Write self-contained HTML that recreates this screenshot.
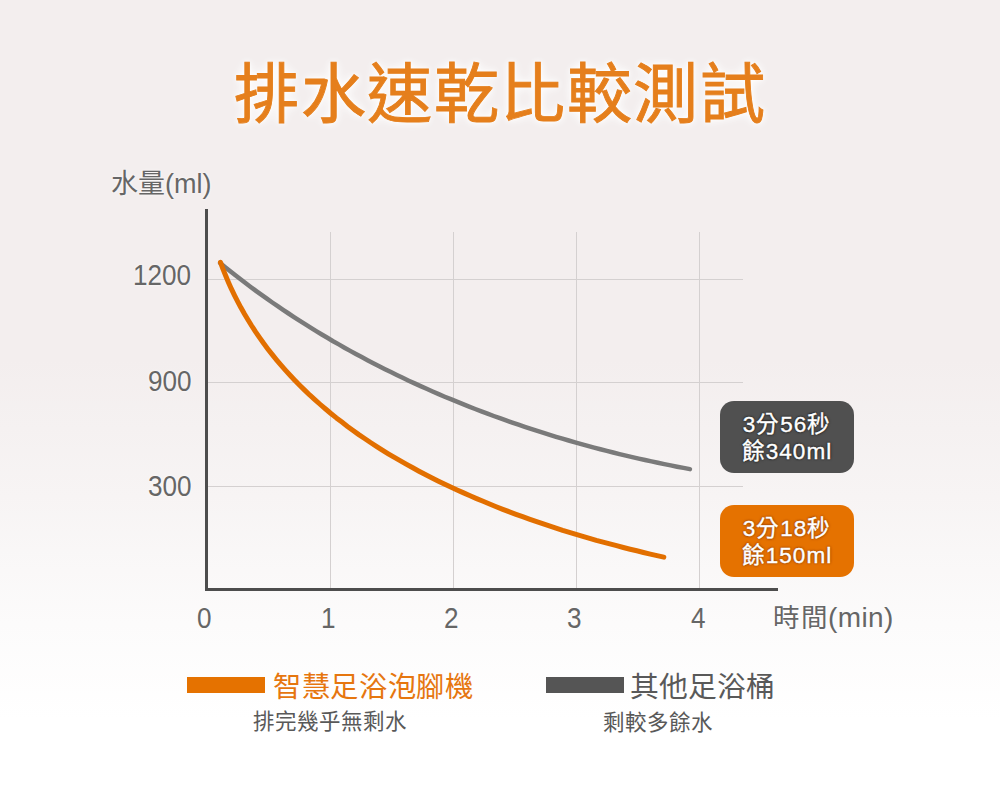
<!DOCTYPE html>
<html lang="zh-TW"><head><meta charset="utf-8">
<style>
html,body{margin:0;padding:0;}
body{width:1000px;height:800px;position:relative;overflow:hidden;
font-family:"Liberation Sans",sans-serif;
background:linear-gradient(to bottom,#f3eeee 0%,#f3eeee 45%,#f7f4f4 62%,#fcfbfb 78%,#ffffff 90%,#ffffff 100%);}
.t{position:absolute;white-space:nowrap;line-height:1;}
#title{color:#e57f1c;font-weight:500;text-shadow:0 0 4px #fff,0 0 8px #fff,0 0 12px #fff;}
.lab{color:#595959;text-shadow:0 0 3px #fff;}
#leg1{color:#e6760f;}
.box{position:absolute;left:720px;width:134px;height:72px;border-radius:14px;color:#fff;
font-size:22.5px;line-height:27px;letter-spacing:1px;text-align:center;box-sizing:border-box;padding-top:9.5px;}
#b1{top:401px;background:#505050;text-shadow:0 0 2px rgba(0,0,0,.8),0 0 3px rgba(0,0,0,.6);-webkit-text-stroke:0.4px #fff;}
#b2{top:505px;background:#e57200;text-shadow:0 0 2px rgba(110,40,0,.85),0 0 3px rgba(110,40,0,.6);-webkit-text-stroke:0.4px #fff;}
</style></head><body>
<svg width="1000" height="800" style="position:absolute;left:0;top:0">
<g stroke="#d4d0d0" stroke-width="1">
<line x1="330.5" y1="232" x2="330.5" y2="589"/>
<line x1="453.5" y1="232" x2="453.5" y2="589"/>
<line x1="576.5" y1="232" x2="576.5" y2="589"/>
<line x1="699.5" y1="232" x2="699.5" y2="589"/>
<line x1="207" y1="279.5" x2="743" y2="279.5"/>
<line x1="207" y1="382.5" x2="743" y2="382.5"/>
<line x1="207" y1="486.5" x2="743" y2="486.5"/>
</g>
<path d="M206.5,209 L206.5,589.5 L778,589.5" fill="none" stroke="#4d4d4d" stroke-width="3"/>
<path d="M220.1,263.0 L225.2,267.2 L230.3,271.3 L235.4,275.3 L240.6,279.3 L245.8,283.3 L251.0,287.2 L256.3,291.1 L261.6,294.9 L266.9,298.7 L272.3,302.5 L277.7,306.2 L283.1,309.9 L288.6,313.5 L294.0,317.1 L299.5,320.7 L305.1,324.2 L310.6,327.7 L316.2,331.1 L321.8,334.5 L327.4,337.8 L333.1,341.2 L338.8,344.4 L344.5,347.7 L350.2,350.9 L355.9,354.0 L361.7,357.1 L367.5,360.2 L373.3,363.2 L379.2,366.2 L385.0,369.2 L390.9,372.1 L396.8,375.0 L402.7,377.8 L408.7,380.7 L414.6,383.4 L420.6,386.1 L426.6,388.8 L432.6,391.5 L438.7,394.1 L444.7,396.7 L450.8,399.2 L456.9,401.7 L463.0,404.2 L469.1,406.6 L475.2,409.0 L481.4,411.4 L487.5,413.7 L493.7,416.0 L499.9,418.2 L506.1,420.4 L512.3,422.6 L518.5,424.7 L524.8,426.8 L531.0,428.9 L537.3,430.9 L543.6,432.9 L549.8,434.9 L556.1,436.8 L562.4,438.7 L568.7,440.5 L575.1,442.3 L581.4,444.1 L587.7,445.9 L594.1,447.6 L600.4,449.2 L606.8,450.9 L613.2,452.5 L619.5,454.1 L625.9,455.6 L632.3,457.1 L638.7,458.6 L645.1,460.0 L651.5,461.4 L657.9,462.8 L664.3,464.1 L670.7,465.4 L677.1,466.7 L683.5,467.9 L689.9,469.1" fill="none" stroke="#7a7a7a" stroke-width="4.5" stroke-linecap="round" stroke-linejoin="round"/>
<path d="M220.5,262.4 L223.0,269.1 L225.7,275.8 L228.5,282.4 L231.4,288.9 L234.5,295.3 L237.7,301.6 L241.0,307.8 L244.5,314.0 L248.1,320.0 L251.8,326.0 L255.6,331.8 L259.6,337.6 L263.6,343.3 L267.8,348.9 L272.1,354.4 L276.5,359.8 L281.0,365.1 L285.6,370.3 L290.3,375.5 L295.0,380.5 L299.9,385.5 L304.9,390.4 L309.9,395.2 L315.1,399.9 L320.3,404.5 L325.6,409.0 L330.9,413.5 L336.4,417.9 L341.9,422.1 L347.5,426.4 L353.1,430.5 L358.8,434.6 L364.6,438.5 L370.5,442.5 L376.4,446.3 L382.3,450.1 L388.3,453.8 L394.4,457.4 L400.5,460.9 L406.6,464.4 L412.8,467.8 L419.0,471.2 L425.3,474.5 L431.6,477.7 L438.0,480.9 L444.3,484.0 L450.7,487.0 L457.1,490.0 L463.6,492.9 L470.1,495.8 L476.6,498.6 L483.1,501.3 L489.6,504.0 L496.2,506.7 L502.8,509.3 L509.4,511.8 L516.0,514.3 L522.6,516.7 L529.3,519.1 L535.9,521.4 L542.6,523.7 L549.3,525.9 L556.0,528.1 L562.7,530.3 L569.4,532.3 L576.1,534.4 L582.8,536.4 L589.6,538.3 L596.3,540.3 L603.1,542.1 L609.8,543.9 L616.6,545.7 L623.3,547.5 L630.1,549.2 L636.8,550.8 L643.5,552.5 L650.3,554.1 L657.0,555.6 L663.8,557.1" fill="none" stroke="#e26f00" stroke-width="5" stroke-linecap="round" stroke-linejoin="round"/>
<rect x="187" y="677" width="78" height="16" fill="#e57200"/>
<rect x="546" y="677" width="78" height="16" fill="#555555"/>
</svg>
<div class="t" id="title" style="left:234px;top:62px;font-size:65px;letter-spacing:1.5px;-webkit-text-stroke:0.9px #e57f1c;">排水速乾比較測試</div>
<div class="t lab" id="ylabel" style="left:111px;top:171px;font-size:27px;color:#666;">水量(ml)</div>
<div class="t lab" id="y1200" style="left:133px;top:261px;font-size:29px;transform:scaleX(0.9);transform-origin:0 0;color:#666;">1200</div>
<div class="t lab" id="y900" style="left:148px;top:367px;font-size:29px;transform:scaleX(0.9);transform-origin:0 0;color:#666;">900</div>
<div class="t lab" id="y300" style="left:148px;top:472px;font-size:29px;transform:scaleX(0.9);transform-origin:0 0;color:#666;">300</div>
<div class="t lab" id="x0" style="left:197px;top:604px;font-size:29px;transform:scaleX(0.9);transform-origin:0 0;color:#666;">0</div>
<div class="t lab" id="x1" style="left:321px;top:604px;font-size:29px;transform:scaleX(0.9);transform-origin:0 0;color:#666;">1</div>
<div class="t lab" id="x2" style="left:444px;top:604px;font-size:29px;transform:scaleX(0.9);transform-origin:0 0;color:#666;">2</div>
<div class="t lab" id="x3" style="left:567px;top:604px;font-size:29px;transform:scaleX(0.9);transform-origin:0 0;color:#666;">3</div>
<div class="t lab" id="x4" style="left:691px;top:604px;font-size:29px;transform:scaleX(0.9);transform-origin:0 0;color:#666;">4</div>
<div class="t lab" id="xlabel" style="left:773px;top:604px;font-size:28px;color:#666;"><span style="font-size:26.5px;letter-spacing:1.5px">時間</span><span style="letter-spacing:0.4px">(min)</span></div>
<div class="t" id="leg1" style="left:273px;top:673px;font-size:28.3px;letter-spacing:0.7px;">智慧足浴泡腳機</div>
<div class="t lab" id="sub1" style="left:253px;top:712px;font-size:21.5px;">排完幾乎無剩水</div>
<div class="t lab" id="leg2" style="left:630px;top:673px;font-size:28.8px;">其他足浴桶</div>
<div class="t lab" id="sub2" style="left:603px;top:713px;font-size:21.5px;">剩較多餘水</div>

<div class="box" id="b1">3分56秒<br>餘340ml</div>
<div class="box" id="b2">3分18秒<br>餘150ml</div>
</body></html>
